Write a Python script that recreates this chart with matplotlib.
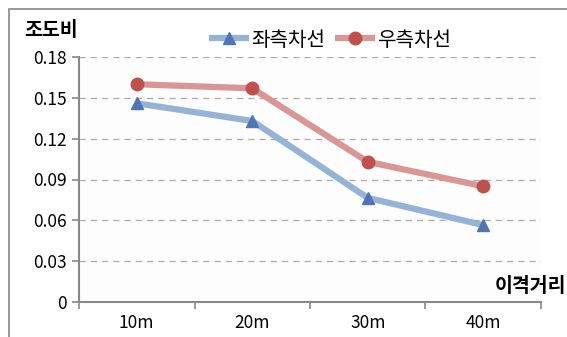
import matplotlib
matplotlib.use('Agg')
import matplotlib.pyplot as plt
from matplotlib.patches import Rectangle

plt.rcParams['font.family'] = ['Noto Sans CJK KR', 'DejaVu Sans']

categories = ['10m', '20m', '30m', '40m']
left_lane = [0.146, 0.133, 0.0765, 0.0565]
right_lane = [0.160, 0.157, 0.103, 0.085]
yticks = [0, 0.03, 0.06, 0.09, 0.12, 0.15, 0.18]
ytick_labels = ['0', '0.03', '0.06', '0.09', '0.12', '0.15', '0.18']

W, H = 567, 337
fig = plt.figure(figsize=(W / 100, H / 100), dpi=100)
fig.patch.set_facecolor('white')
ax = fig.add_axes([79 / W, 1 - 302 / H, (541 - 79) / W, (302 - 57) / H])
ax.set_facecolor('#fdfdfd')

x = list(range(len(categories)))
ax.plot(x, left_lane, color='#95b3d7', lw=4.5, marker='^', ms=9,
        markerfacecolor='#4f74b8', markeredgecolor='#4f74b8', label='좌측차선',
        solid_capstyle='butt')
ax.plot(x, right_lane, color='#d99694', lw=4.5, marker='o', ms=9,
        markerfacecolor='#c0504d', markeredgecolor='#c0504d', label='우측차선',
        solid_capstyle='butt')

ax.set_xlim(-0.5, len(categories) - 0.5)
ax.set_ylim(0, 0.18)
ax.set_yticks(yticks)
ax.set_yticklabels(ytick_labels, fontsize=12.5)
for y in yticks[1:]:
    ax.axhline(y, color='#b0aaa8', lw=0.9, ls=(0, (5, 4)), zorder=0)

ax.set_xticks([i - 0.5 for i in range(len(categories) + 1)])
ax.set_xticklabels([])
ax.set_xticks(x, minor=True)
ax.set_xticklabels(categories, minor=True, fontsize=12.5)
ax.tick_params(axis='x', which='major', length=5, color='#888888', width=1.2)
ax.tick_params(axis='x', which='minor', length=0, pad=9)
ax.tick_params(axis='y', length=5, color='#888888', width=1.2, pad=4)

for s in ['top', 'right']:
    ax.spines[s].set_visible(False)
for s in ['left', 'bottom']:
    ax.spines[s].set_color('#888888')
    ax.spines[s].set_linewidth(1.5)

fig.text(24 / W, 1 - 31 / H, '조도비', fontsize=14, fontweight='bold', va='center')
fig.text(495 / W, 1 - 287 / H, '이격거리', fontsize=14, fontweight='bold', va='center')

ax.legend(loc='center', bbox_to_anchor=(330 / W, 1 - 40 / H), bbox_transform=fig.transFigure,
          ncol=2, frameon=False, fontsize=14.5, handlelength=2.0, handletextpad=0.1,
          columnspacing=0.5)

fig.patches.append(Rectangle((9 / W, -0.1), 1, 1 - 9 / H + 0.1, transform=fig.transFigure,
                             fill=False, edgecolor='#888888', lw=1.2))

fig.savefig('out.png', dpi=100)
